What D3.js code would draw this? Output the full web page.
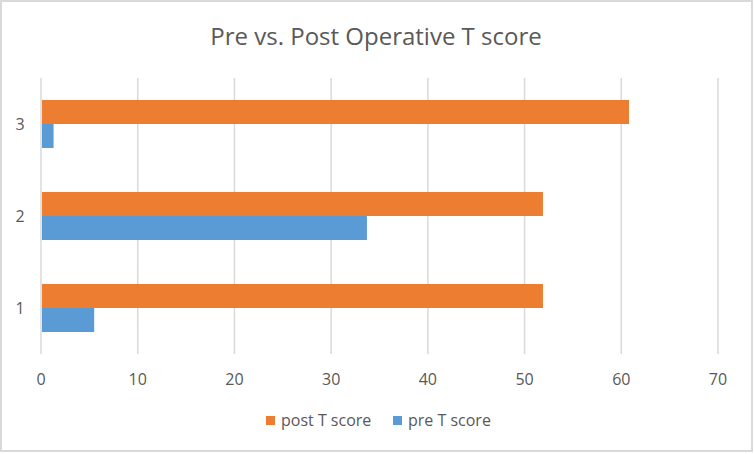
<html>
<head>
<meta charset="utf-8">
<script src="https://cdn.jsdelivr.net/npm/d3@7"></script>
<style>
	body { margin: 0; background: #fff; }
	text { font-family: "Open Sans", sans-serif; fill: #595959; }
</style>
</head>
<body>
<svg id="chart" width="754" height="454"></svg>
<script>
// data
var categories = ["1", "2", "3"];
var postScore  = [51.9, 51.9, 60.8];
var preScore   = [5.5, 33.7, 1.3];
var xTicks     = [0, 10, 20, 30, 40, 50, 60, 70];
var seriesNames  = ["post T score", "pre T score"];
var seriesColors = ["#ED7D31", "#5B9BD5"];

var svg = d3.select("#chart");

// outer border
svg.append("rect")
	.attr("x", 1).attr("y", 1)
	.attr("width", 751).attr("height", 450)
	.attr("fill", "#fff")
	.attr("stroke", "#d9d9d9")
	.attr("stroke-width", 2);

var plot = { left: 41, right: 718, top: 78, bottom: 354 };

var x = d3.scaleLinear().domain([0, 70]).range([plot.left, plot.right]);

// categories bottom-up: "1" at bottom
var y = d3.scaleBand()
	.domain(categories.slice().reverse())
	.range([plot.top, plot.bottom])
	.paddingInner(0.478)
	.paddingOuter(0.239);

// post above pre inside each group
var ySub = d3.scaleBand()
	.domain(seriesNames)
	.range([0, y.bandwidth()]);

// gridlines
svg.append("g")
	.selectAll("line")
	.data(xTicks)
	.join("line")
	.attr("x1", function (d) { return x(d); })
	.attr("x2", function (d) { return x(d); })
	.attr("y1", plot.top)
	.attr("y2", plot.bottom)
	.attr("stroke", "#d9d9d9")
	.attr("stroke-width", 1.5);

// x tick labels
svg.append("g")
	.selectAll("text")
	.data(xTicks)
	.join("text")
	.attr("x", function (d) { return x(d); })
	.attr("y", 385)
	.attr("text-anchor", "middle")
	.style("font-size", "16px")
	.text(function (d) { return d; });

// y labels
svg.append("g")
	.selectAll("text")
	.data(categories)
	.join("text")
	.attr("x", 20)
	.attr("y", function (d) { return y(d) + y.bandwidth() / 2 + 6; })
	.attr("text-anchor", "middle")
	.style("font-size", "16px")
	.text(function (d) { return d; });

// bars
var rows = categories.map(function (c, i) {
	return { cat: c, values: [postScore[i], preScore[i]] };
});

var groups = svg.append("g")
	.selectAll("g")
	.data(rows)
	.join("g")
	.attr("transform", function (d) { return "translate(0," + y(d.cat) + ")"; });

groups.selectAll("rect")
	.data(function (d) {
		return d.values.map(function (v, j) { return { name: seriesNames[j], value: v, color: seriesColors[j] }; });
	})
	.join("rect")
	.attr("x", x(0) + 1)
	.attr("y", function (d) { return ySub(d.name); })
	.attr("width", function (d) { return x(d.value) - x(0) - 1; })
	.attr("height", ySub.bandwidth())
	.attr("fill", function (d) { return d.color; });

// title
svg.append("text")
	.attr("x", 376)
	.attr("y", 45)
	.attr("text-anchor", "middle")
	.style("font-size", "24px")
	.text("Pre vs. Post Operative T score");

// legend
var legendX = [266, 393];
var legend = svg.append("g")
	.selectAll("g")
	.data(seriesNames)
	.join("g")
	.attr("transform", function (d, i) { return "translate(" + legendX[i] + ",416)"; });

legend.append("rect")
	.attr("width", 9).attr("height", 9)
	.attr("fill", function (d, i) { return seriesColors[i]; });

legend.append("text")
	.attr("x", 15)
	.attr("y", 10)
	.style("font-size", "16px")
	.text(function (d) { return d; });
</script>
</body>
</html>
